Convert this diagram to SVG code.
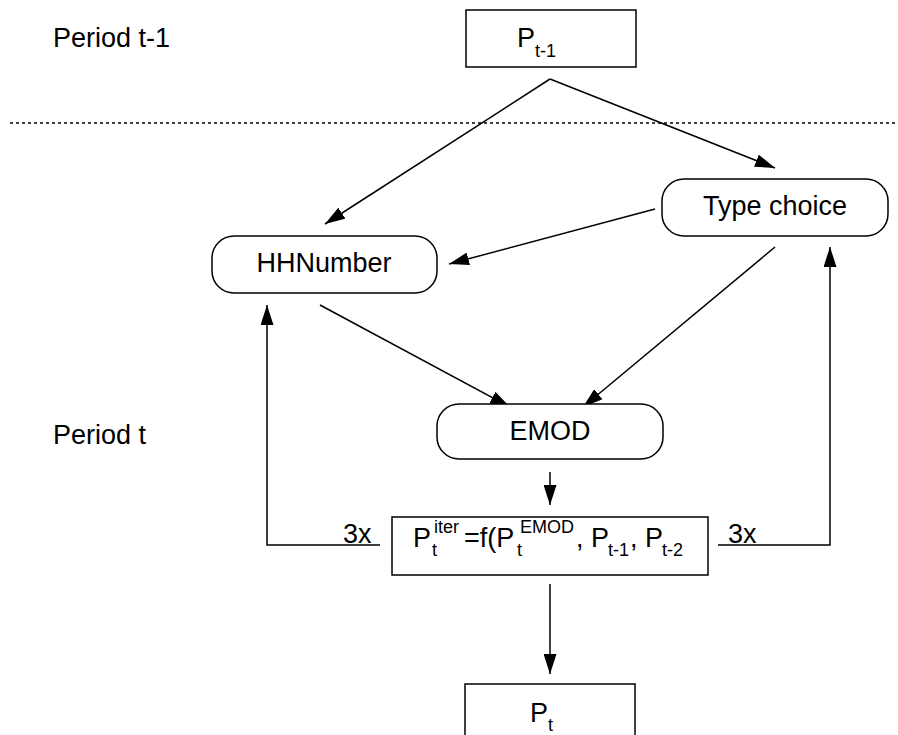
<svg xmlns="http://www.w3.org/2000/svg" width="898" height="735" viewBox="0 0 898 735">
<style>
text{font-family:"Liberation Sans",Arial,sans-serif;fill:#000}
.t{font-size:27px}
.s{font-size:18px}
.box{fill:#fff;stroke:#000;stroke-width:1.5}
.ln{fill:none;stroke:#000;stroke-width:1.5}
</style>
<defs>
<marker id="ah" markerUnits="userSpaceOnUse" markerWidth="20" markerHeight="13" refX="20" refY="6.5" orient="auto">
<path d="M0,0 L20,6.5 L0,13 z" fill="#000"/>
</marker>
</defs>
<rect width="898" height="735" fill="#fff"/>
<text class="t" x="53" y="47">Period t-1</text>
<text class="t" x="53" y="444">Period t</text>
<line x1="10" y1="123" x2="898" y2="123" stroke="#000" stroke-width="1.5" stroke-dasharray="3 3"/>
<g id="connectors">
<line class="ln" x1="550" y1="79" x2="325" y2="224" marker-end="url(#ah)"/>
<line class="ln" x1="550" y1="79" x2="775" y2="168" marker-end="url(#ah)"/>
<line class="ln" x1="655" y1="209" x2="449" y2="264" marker-end="url(#ah)"/>
<line class="ln" x1="320" y1="305" x2="510" y2="407" marker-end="url(#ah)"/>
<line class="ln" x1="775" y1="247" x2="583" y2="407" marker-end="url(#ah)"/>
<line class="ln" x1="550" y1="472" x2="550" y2="505" marker-end="url(#ah)"/>
<line class="ln" x1="550" y1="584" x2="550" y2="674" marker-end="url(#ah)"/>
<polyline class="ln" points="380,545 267,545 267,305" marker-end="url(#ah)"/>
<polyline class="ln" points="718,545 830,545 830,247" marker-end="url(#ah)"/>
<text class="t" x="343" y="543">3x</text>
<text class="t" x="728" y="543">3x</text>
</g>
<g id="p_prev">
<rect class="box" x="466" y="10" width="170" height="57"/>
<text class="t" x="517" y="47">P</text><text class="s" x="535" y="57">t-1</text>
</g>
<g id="hhnumber">
<rect class="box" x="212" y="236" width="225" height="57" rx="22"/>
<text class="t" x="324" y="272" text-anchor="middle">HHNumber</text>
</g>
<g id="typechoice">
<rect class="box" x="662" y="179" width="226" height="57" rx="22"/>
<text class="t" x="775" y="215" text-anchor="middle">Type choice</text>
</g>
<g id="emod">
<rect class="box" x="437" y="404" width="226" height="55" rx="22"/>
<text class="t" x="550" y="440" text-anchor="middle">EMOD</text>
</g>
<g id="p_iter">
<rect class="box" x="392" y="517" width="316" height="58"/>
<text class="t" x="413" y="547">P</text>
<text class="s" x="434" y="533">iter</text>
<text class="s" x="432" y="556">t</text>
<text class="t" x="464" y="547">=f(P</text>
<text class="s" x="520" y="533">EMOD</text>
<text class="s" x="517" y="556">t</text>
<text class="t" x="576" y="547">, P</text>
<text class="s" x="608" y="556">t-1</text>
<text class="t" x="630" y="547">, P</text>
<text class="s" x="662" y="556">t-2</text>
</g>
<g id="p_t">
<rect class="box" x="465" y="684" width="170" height="52"/>
<text class="t" x="530" y="722">P</text><text class="s" x="548" y="731">t</text>
</g>
</svg>
